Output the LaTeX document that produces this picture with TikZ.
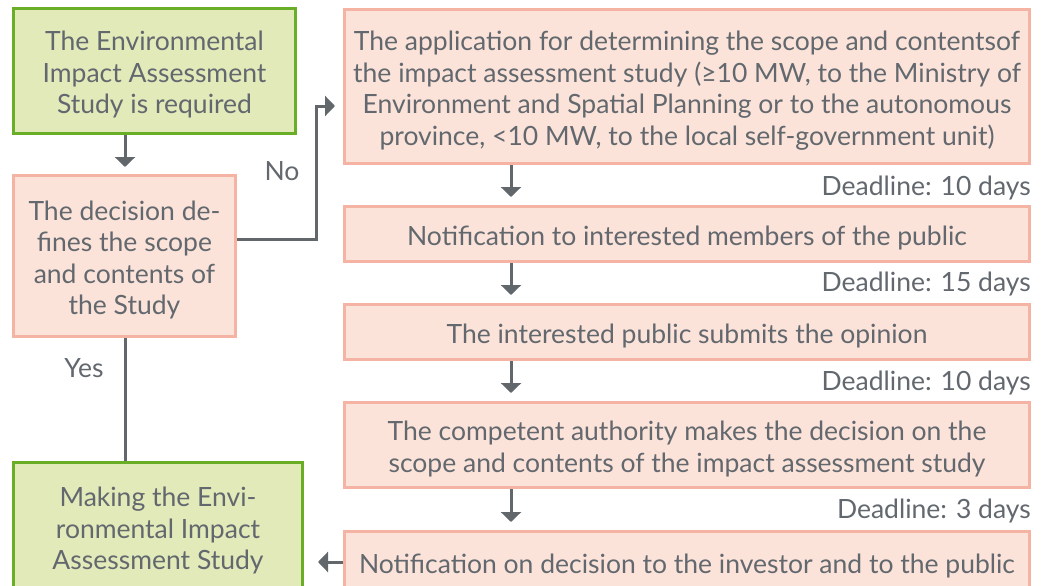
\documentclass[tikz,border=0pt]{standalone}
\usepackage{fontspec}
\setmainfont{Lato}
\usetikzlibrary{arrows.meta}
\definecolor{txt}{HTML}{62686E}
\definecolor{pinkfill}{HTML}{FBE3D9}
\definecolor{pinkline}{HTML}{F5B3A4}
\definecolor{greenfill}{HTML}{E2EABA}
\definecolor{greenline}{HTML}{6AAE27}
\definecolor{arrcol}{HTML}{62676C}
\newcommand\topfix{\rule{0pt}{27.5pt}}
\tikzset{
  every node/.style={text=txt,font=\fontsize{26.5}{31.5}\selectfont},
  pbox/.style={draw=pinkline,fill=pinkfill,line width=3pt,inner sep=0pt,align=center},
  gbox/.style={draw=greenline,fill=greenfill,line width=3pt,inner sep=0pt,align=center},
  arr/.style={draw=arrcol,line width=3pt,-{Triangle[width=20pt,length=10pt]}},
  conn/.style={draw=arrcol,line width=3pt},
  lbl/.style={inner sep=0pt},
}
\begin{document}
\begin{tikzpicture}[x=1pt,y=-1pt]
\useasboundingbox (0,0) rectangle (1047,586);
% left column
\node[gbox,minimum width=282pt,minimum height=125pt] (g1) at (154.5,71)
  {\topfix The Environmental\\Impact Assessment\\Study is required};
\node[pbox,minimum width=222pt,minimum height=161pt] (d2) at (124.5,256)
  {\topfix The decision de-\\fines the scope\\and contents of\\the Study};
\node[gbox,minimum width=289pt,minimum height=129pt] (g2) at (158,527)
  {\topfix Making the Envi-\\ronmental Impact\\Assessment Study};
% right column
\node[pbox,minimum width=685pt,minimum height=154pt] (p3) at (687,86.5)
  {\topfix The application for determining the scope and contentsof\\the impact assessment study (≥10 MW, to the Ministry of\\Environment and Spatial Planning or to the autonomous\\province, <10 MW, to the local self-government unit)};
\node[pbox,minimum width=685pt,minimum height=55pt] (p4) at (687,234)
  {\topfix Notification to interested members of the public};
\node[pbox,minimum width=685pt,minimum height=55pt] (p5) at (687,332)
  {\topfix The interested public submits the opinion};
\node[pbox,minimum width=685pt,minimum height=85pt] (p6) at (687,445)
  {\topfix The competent authority makes the decision on the\\scope and contents of the impact assessment study};
\node[pbox,minimum width=685pt,minimum height=61pt] (p7) at (687,562)
  {\topfix Notification on decision to the investor and to the public};
% deadlines
\node[lbl,anchor=east] (dl1) at (1031,188) {Deadline: 10 days};
\node[lbl,anchor=east] (dl2) at (1031,284) {Deadline: 15 days};
\node[lbl,anchor=east] (dl3) at (1031,383) {Deadline: 10 days};
\node[lbl,anchor=east] (dl4) at (1031,511) {Deadline: 3 days};
% labels
\node[lbl] (no) at (282,171) {No};
\node[lbl] (yes) at (84,368) {Yes};
% connectors
\coordinate (ax) at (511,0);
\coordinate (lx) at (125,0);
\coordinate (noA) at (0,239);
\coordinate (noB) at (316,106);
\draw[arr,shorten >=7pt] (g1.south -| lx) -- (d2.north -| lx);
\draw[arr,shorten >=8pt] (d2.east |- noA) -| (noB) -- (p3.west |- noB);
\draw[conn] (d2.south -| lx) -- (g2.north -| lx);
\draw[arr,shorten >=8pt] (p3.south -| ax) -- (p4.north -| ax);
\draw[arr,shorten >=8pt] (p4.south -| ax) -- (p5.north -| ax);
\draw[arr,shorten >=8pt] (p5.south -| ax) -- (p6.north -| ax);
\draw[arr,shorten >=8pt] (p6.south -| ax) -- (p7.north -| ax);
\draw[arr,shorten >=14pt] (p7.west) -- (p7.west -| g2.east);
\end{tikzpicture}
\end{document}
